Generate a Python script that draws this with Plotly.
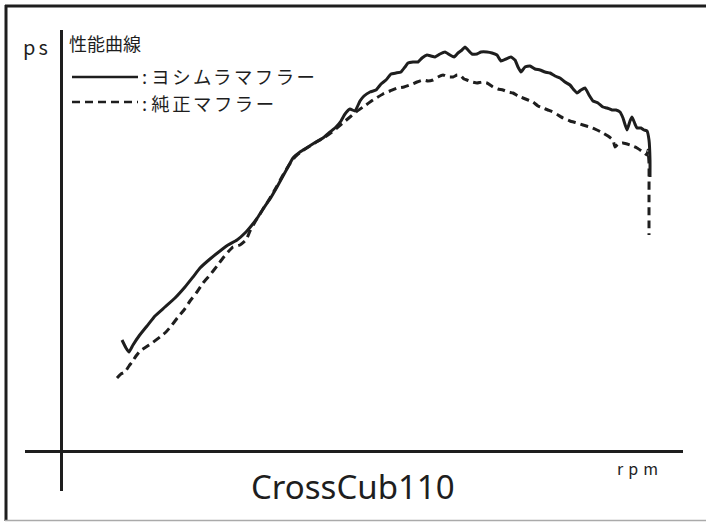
import plotly.graph_objects as go

# ---- data ----
yoshimura_rpm = [2050, 2090, 2120, 2160, 2220, 2300, 2380, 2480, 2580, 2680, 2760, 2830, 2930, 3030,
                 3110, 3200, 3290, 3350, 3410, 3460, 3530, 3600, 3660, 3710, 3760, 3830, 3910, 3990,
                 4060, 4130, 4190, 4240, 4280, 4330, 4380, 4430, 4470, 4530, 4590, 4640, 4690, 4740,
                 4790, 4840, 4880, 4910, 4960, 5010, 5050, 5100, 5140, 5180, 5230, 5280, 5330, 5370,
                 5410, 5450, 5480, 5510, 5550, 5600, 5640, 5700, 5750, 5800, 5840, 5890, 5940, 5980,
                 6010, 6040, 6080, 6130, 6180, 6230, 6280, 6330, 6380, 6430, 6480, 6530, 6570, 6600,
                 6640, 6680, 6720, 6760, 6810, 6860, 6900, 6950, 6990, 7030, 7060, 7100, 7130, 7150,
                 7180, 7200, 7240, 7270, 7300, 7320, 7330, 7330]
yoshimura_ps = [2.22, 2.06, 1.98, 2.12, 2.30, 2.50, 2.70, 2.88, 3.06, 3.28, 3.48, 3.66, 3.84, 4.00,
                4.12, 4.22, 4.38, 4.52, 4.68, 4.84, 5.04, 5.28, 5.50, 5.68, 5.86, 5.98, 6.08, 6.18,
                6.26, 6.38, 6.48, 6.60, 6.74, 6.84, 6.80, 7.00, 7.10, 7.18, 7.22, 7.34, 7.42, 7.54,
                7.56, 7.58, 7.68, 7.76, 7.78, 7.78, 7.86, 7.92, 7.90, 7.88, 7.94, 7.98, 7.92, 7.88,
                7.96, 8.02, 8.08, 8.02, 7.94, 7.94, 7.98, 7.98, 7.96, 7.92, 7.80, 7.84, 7.88, 7.82,
                7.68, 7.58, 7.68, 7.70, 7.64, 7.62, 7.58, 7.56, 7.50, 7.46, 7.38, 7.32, 7.22, 7.16,
                7.22, 7.26, 7.12, 7.00, 6.96, 6.88, 6.86, 6.82, 6.82, 6.78, 6.66, 6.42, 6.60, 6.68,
                6.54, 6.46, 6.46, 6.42, 6.40, 6.22, 5.82, 5.48]

stock_rpm = [2000, 2040, 2080, 2120, 2150, 2190, 2230, 2290, 2350, 2430, 2490, 2550, 2610, 2670,
             2730, 2800, 2860, 2930, 3000, 3060, 3110, 3160, 3230, 3290, 3330, 3380, 3430, 3480,
             3530, 3600, 3660, 3720, 3780, 3850, 3930, 4010, 4080, 4150, 4210, 4270, 4330, 4390,
             4460, 4560, 4660, 4730, 4800, 4870, 4930, 5000, 5060, 5110, 5160, 5210, 5260, 5310,
             5360, 5400, 5430, 5470, 5500, 5550, 5600, 5650, 5700, 5760, 5810, 5860, 5910, 5960,
             6010, 6060, 6110, 6160, 6210, 6260, 6310, 6360, 6410, 6460, 6530, 6600, 6660, 6730,
             6800, 6860, 6910, 6960, 6980, 7010, 7060, 7130, 7200, 7260, 7300, 7310, 7320, 7320, 7320]
stock_ps = [1.46, 1.54, 1.58, 1.70, 1.78, 1.90, 2.00, 2.08, 2.16, 2.28, 2.38, 2.52, 2.68, 2.82,
            3.00, 3.18, 3.36, 3.52, 3.70, 3.86, 3.98, 4.08, 4.12, 4.22, 4.40, 4.58, 4.74, 4.90,
            5.06, 5.30, 5.52, 5.72, 5.88, 6.00, 6.10, 6.20, 6.28, 6.38, 6.48, 6.58, 6.68, 6.78,
            6.88, 7.02, 7.14, 7.20, 7.26, 7.28, 7.32, 7.38, 7.42, 7.40, 7.42, 7.48, 7.52, 7.48,
            7.48, 7.52, 7.52, 7.44, 7.42, 7.38, 7.36, 7.38, 7.36, 7.28, 7.24, 7.22, 7.18, 7.16,
            7.10, 7.06, 7.02, 6.98, 6.90, 6.86, 6.82, 6.78, 6.72, 6.66, 6.60, 6.56, 6.52, 6.48,
            6.42, 6.36, 6.30, 6.22, 6.08, 6.14, 6.16, 6.12, 6.06, 5.98, 5.92, 6.02, 5.76, 5.02, 4.32]

title_text = "性能曲線"
legend_names = ["ヨシムラマフラー", "純正マフラー"]
y_label = "ps"
x_label = "rpm"
model_name = "CrossCub110"

# ---- layout geometry ----
W, H = 706, 522
L, R, T, B = 61, 23, 30, 71
PW, PH = W - L - R, H - T - B


def xp(px):
    return (px - L) / PW


def yp(py):
    return (H - B - py) / PH


def spaced(text, px):
    return '<span style="letter-spacing:%spx">%s</span>' % (px, text)


INK = "#1e1e1e"
JP = "Noto Sans CJK JP, Noto Sans, sans-serif"

fig = go.Figure()
fig.add_trace(go.Scatter(x=yoshimura_rpm, y=yoshimura_ps, mode="lines",
                         line=dict(color=INK, width=3), name=legend_names[0],
                         line_shape="spline", line_smoothing=0.4))
fig.add_trace(go.Scatter(x=stock_rpm, y=stock_ps, mode="lines",
                         line=dict(color=INK, width=3, dash="8px,5px"), name=legend_names[1],
                         line_shape="spline", line_smoothing=0.4))

shapes = []
# frame
shapes.append(dict(type="line", xref="paper", yref="paper", x0=xp(6), x1=xp(6), y0=yp(5), y1=yp(521),
                   line=dict(color=INK, width=3)))
shapes.append(dict(type="line", xref="paper", yref="paper", x0=xp(5), x1=xp(706), y0=yp(6), y1=yp(6),
                   line=dict(color=INK, width=3)))
shapes.append(dict(type="line", xref="paper", yref="paper", x0=xp(5), x1=xp(706), y0=yp(520.5), y1=yp(520.5),
                   line=dict(color="#aaaaaa", width=1.5)))
# axes
shapes.append(dict(type="line", xref="paper", yref="paper", x0=xp(25), x1=xp(683), y0=yp(451.5), y1=yp(451.5),
                   line=dict(color=INK, width=3)))
shapes.append(dict(type="line", xref="paper", yref="paper", x0=xp(61.5), x1=xp(61.5), y0=yp(30), y1=yp(491),
                   line=dict(color=INK, width=3)))
# legend samples
shapes.append(dict(type="line", xref="paper", yref="paper", x0=xp(72), x1=xp(138), y0=yp(77), y1=yp(77),
                   line=dict(color=INK, width=2.4)))
shapes.append(dict(type="line", xref="paper", yref="paper", x0=xp(72), x1=xp(138), y0=yp(102), y1=yp(102),
                   line=dict(color=INK, width=2.4, dash="8px,5px")))

annotations = [
    dict(text=spaced(y_label, 3), x=xp(37), y=yp(46), font=dict(family=JP, size=20, color=INK)),
    dict(text=title_text, x=xp(67), y=yp(43), xanchor="left", font=dict(family=JP, size=18, color=INK)),
    dict(text=": " + spaced(legend_names[0], 2.5), x=xp(140), y=yp(76), xanchor="left",
         font=dict(family=JP, size=18.4, color=INK)),
    dict(text=": " + spaced(legend_names[1], 2.5), x=xp(140), y=yp(103), xanchor="left",
         font=dict(family=JP, size=18.4, color=INK)),
    dict(text=model_name, x=xp(353), y=yp(486),
         font=dict(family="Noto Sans, sans-serif", size=33, color=INK)),
    dict(text=spaced(x_label, 5), x=xp(640), y=yp(468), font=dict(family=JP, size=16, color=INK)),
]
for a in annotations:
    a.update(xref="paper", yref="paper", showarrow=False, yanchor="middle")
    a.setdefault("xanchor", "center")

fig.update_layout(
    width=W, height=H,
    margin=dict(l=L, r=R, t=T, b=B),
    paper_bgcolor="white", plot_bgcolor="white",
    showlegend=False,
    xaxis=dict(range=[1440, 1440 + PW * 10], visible=False),
    yaxis=dict(range=[0, PH / 50], visible=False),
    shapes=shapes,
    annotations=annotations,
)

fig.write_html("out.html", post_script="document.body.style.margin='0';",
               config={"displayModeBar": False})
